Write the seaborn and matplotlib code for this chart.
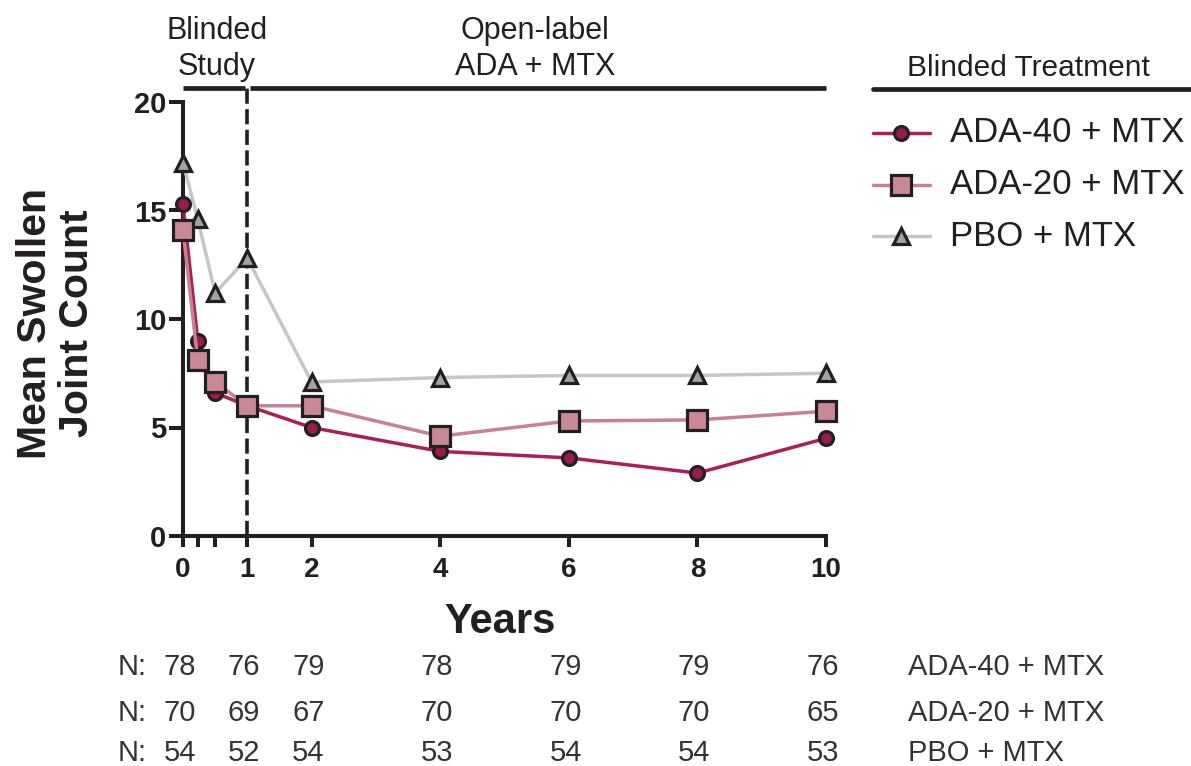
import matplotlib
matplotlib.use("Agg")
import matplotlib.pyplot as plt
from matplotlib.lines import Line2D
import matplotlib.transforms as mtransforms
import seaborn as sns
import pandas as pd

# ---------------- data ----------------
years = [0, 0.23, 0.5, 1, 2, 4, 6, 8, 10]
ada40 = [15.3, 9.0, 6.6, 6.0, 5.0, 3.9, 3.6, 2.9, 4.5]
ada20 = [14.1, 8.1, 7.1, 6.0, 6.0, 4.6, 5.3, 5.35, 5.75]
pbo = [17.2, 14.6, 11.2, 12.8, 7.1, 7.3, 7.4, 7.4, 7.5]
series_names = ["ADA-40 + MTX", "ADA-20 + MTX", "PBO + MTX"]

n_years = [0, 1, 2, 4, 6, 8, 10]
n_ada40 = [78, 76, 79, 78, 79, 79, 76]
n_ada20 = [70, 69, 67, 70, 70, 70, 65]
n_pbo = [54, 52, 54, 53, 54, 54, 53]

x_ticks = [0, 1, 2, 4, 6, 8, 10]
x_minor = [0.23, 0.5]
y_ticks = [0, 5, 10, 15, 20]

# ---------------- style ----------------
sns.set_style("ticks")
plt.rcParams["font.family"] = ["Liberation Sans", "DejaVu Sans"]
INK = "#231f20"
TXT = "#333333"
line_col = {"ADA-40 + MTX": "#ad1d57", "ADA-20 + MTX": "#c98090", "PBO + MTX": "#c6c6c6"}
face_col = {"ADA-40 + MTX": "#9a1a4c", "ADA-20 + MTX": "#c98894", "PBO + MTX": "#a3a3a3"}
marker = {"ADA-40 + MTX": "o", "ADA-20 + MTX": "s", "PBO + MTX": "^"}
msize = {"ADA-40 + MTX": 10, "ADA-20 + MTX": 14, "PBO + MTX": 12}
MEW = 2.3

df = pd.DataFrame({
    "Years": years * 3,
    "Value": ada40 + ada20 + pbo,
    "Group": [series_names[0]] * len(years) + [series_names[1]] * len(years) + [series_names[2]] * len(years),
})

W, H = 1191, 766
fig = plt.figure(figsize=(W / 100, H / 100), dpi=100)
ax = fig.add_axes([183 / W, 1 - 536 / H, 643 / W, 434 / H])

for name in ["PBO + MTX", "ADA-40 + MTX", "ADA-20 + MTX"]:
    sub = df[df["Group"] == name]
    sns.lineplot(data=sub, x="Years", y="Value", ax=ax, color=line_col[name],
                 marker=marker[name], markersize=msize[name],
                 markerfacecolor=face_col[name], markeredgecolor=INK,
                 markeredgewidth=MEW, linewidth=2.5, clip_on=False,
                 legend=False, zorder=3)

ax.set_xlim(0, 10)
ax.set_ylim(0, 20)
ax.set_xticks(x_ticks)
ax.set_xticks(x_minor, minor=True)
ax.set_yticks(y_ticks)
ax.set_xticklabels([str(t) for t in x_ticks], fontsize=20, fontweight="bold", color=INK)
ax.set_yticklabels([str(t) for t in y_ticks], fontsize=21, fontweight="bold", color=INK)
ax.tick_params(axis="x", which="both", length=8, width=2.9, color=INK, pad=7)
ax.tick_params(axis="y", which="both", length=10, width=2.9, color=INK, pad=2)
ax.set_xlabel("")
ax.set_ylabel("")
for s in ["left", "bottom"]:
    ax.spines[s].set_linewidth(2.9)
    ax.spines[s].set_color(INK)
sns.despine(ax=ax)

# dashed line at year 1 up to header line
top_y = (536 - 88.5) / 21.7
ax.plot([1, 1], [0, top_y], color=INK, lw=2.6, ls=(0, (4.2, 1.5)), clip_on=False, zorder=1)
# header lines
ax.plot([0, 0.96], [top_y, top_y], color=INK, lw=3.4, clip_on=False, solid_capstyle="butt")
ax.plot([1.04, 10], [top_y, top_y], color=INK, lw=3.4, clip_on=False, solid_capstyle="butt")

fig.text(217 / W, 1 - 49 / H, "Blinded\nStudy", ha="center", va="center", fontsize=22,
         color=INK, linespacing=1.3)
fig.text(535 / W, 1 - 49 / H, "Open-label\nADA + MTX", ha="center", va="center", fontsize=22,
         color=INK, linespacing=1.3)

# axis labels
fig.text(56 / W, 1 - 323 / H, "Mean Swollen\nJoint Count", rotation=90, ha="center", va="center",
         fontsize=29.5, fontweight="bold", color=INK, linespacing=1.15)
fig.text(500 / W, 1 - 622 / H, "Years", ha="center", va="center", fontsize=30,
         fontweight="bold", color=INK)

# legend (manual)
fig.add_artist(Line2D([873 / W, 1.0], [1 - 88.5 / H, 1 - 88.5 / H], transform=fig.transFigure,
                      color=INK, lw=3.4))
fig.text(1028 / W, 1 - 68 / H, "Blinded Treatment", ha="center", va="center", fontsize=21.5, color=INK)
for name, yy in zip(series_names, [133, 185, 236]):
    fy = 1 - yy / H
    fig.add_artist(Line2D([873 / W, 930 / W], [fy, fy], transform=fig.transFigure,
                          color=line_col[name], lw=2.5))
    fig.add_artist(Line2D([901 / W], [fy], transform=fig.transFigure, marker=marker[name],
                          markersize=msize[name], markerfacecolor=face_col[name],
                          markeredgecolor=INK, markeredgewidth=MEW, lw=0))
    fig.text(950 / W, fy, name, ha="left", va="center", fontsize=25, color=INK)

# N table
trans = mtransforms.blended_transform_factory(ax.transData, fig.transFigure)
for vals, yy, name in zip([n_ada40, n_ada20, n_pbo], [667, 713, 753], series_names):
    fy = 1 - yy / H
    fig.text(118 / W, fy, "N:", ha="left", va="center", fontsize=21, color=TXT)
    for xv, nv in zip(n_years, vals):
        ax.text(xv - 0.05, fy, str(nv), transform=trans, ha="center", va="center", fontsize=21,
                color=TXT, clip_on=False)
    fig.text(908 / W, fy, name, ha="left", va="center", fontsize=21, color=TXT)

fig.savefig("out.png", dpi=100)
